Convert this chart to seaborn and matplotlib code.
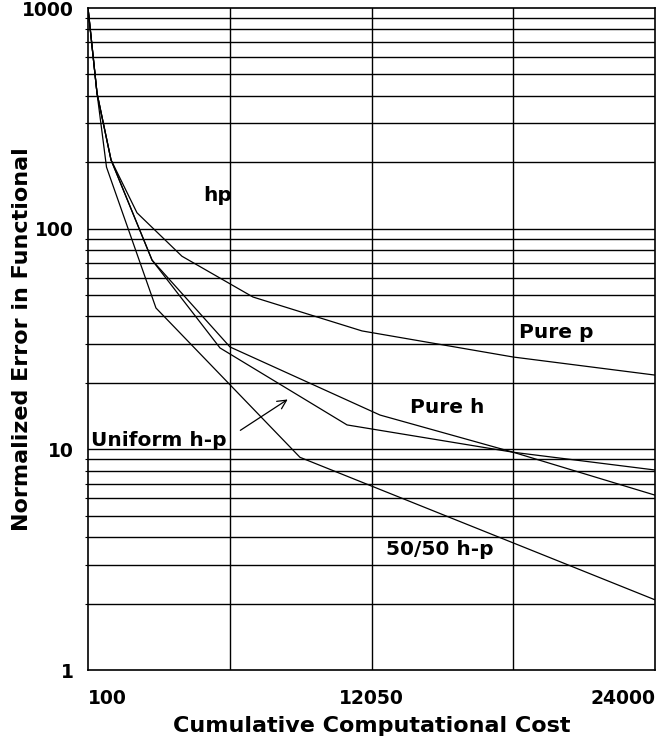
import matplotlib
matplotlib.use("Agg")
import matplotlib.pyplot as plt
import matplotlib.transforms as mtransforms
import seaborn as sns
import pandas as pd
import numpy as np

# ---- data ----
cost_pure_p = [100, 480, 1070, 2165, 4060, 7055, 11650, 18025, 24000]
err_pure_p = [1000, 411, 205, 118, 75, 49, 34.4, 26.2, 21.7]

cost_pure_h = [100, 480, 1070, 2800, 6085, 12410, 18025, 24000]
err_pure_h = [1000, 411, 205, 72, 29.1, 14.3, 9.7, 6.2]

cost_uniform = [100, 480, 1070, 2800, 5665, 11020, 18025, 24000]
err_uniform = [1000, 411, 205, 72, 28.8, 12.9, 9.7, 8.06]

cost_5050 = [100, 480, 880, 2965, 9035, 24000]
err_5050 = [1000, 411, 190, 43.7, 9.2, 2.08]

x_ticks = [100, 12050, 24000]
x_tick_labels = ["100", "12050", "24000"]
x_grid = [6075, 12050, 18025]
y_ticks = [1, 10, 100, 1000]
y_tick_labels = ["1", "10", "100", "1000"]

sns.set_theme(style="white")
plt.rcParams['font.family'] = ['DejaVu Sans']
plt.rcParams['font.weight'] = 'bold'
plt.rcParams['text.color'] = 'black'
plt.rcParams['axes.labelcolor'] = 'black'
plt.rcParams['xtick.color'] = 'black'
plt.rcParams['ytick.color'] = 'black'
plt.rcParams['xtick.labelcolor'] = 'black'
plt.rcParams['ytick.labelcolor'] = 'black'

frames = []
for name, c, e in [("Pure p", cost_pure_p, err_pure_p),
                   ("Pure h", cost_pure_h, err_pure_h),
                   ("Uniform h-p", cost_uniform, err_uniform),
                   ("50/50 h-p", cost_5050, err_5050)]:
    frames.append(pd.DataFrame({"cost": c, "err": e, "series": name}))
df = pd.concat(frames, ignore_index=True)

fig = plt.figure(figsize=(6.69, 7.49), dpi=100)
ax = fig.add_axes([88/669, 1 - 670/749, 567/669, 662/749])

ax.set_yscale("log")
ax.set_xlim(100, 24000)
ax.set_ylim(1, 1000)

# grid lines
for xv in x_grid:
    ax.axvline(xv, color="black", lw=1.0, zorder=1)
for dec in [1, 10, 100]:
    for m in range(2, 10):
        ax.axhline(dec * m, color="black", lw=1.0, zorder=1)
    if dec > 1:
        ax.axhline(dec, color="black", lw=1.0, zorder=1)

sns.lineplot(data=df, x="cost", y="err", units="series", estimator=None,
             sort=False, color="black", lw=0.9, ax=ax, legend=False, zorder=3)

for s in ax.spines.values():
    s.set_color("black")
    s.set_linewidth(1.2)

ax.set_xticks(x_ticks)
ax.set_xticklabels(x_tick_labels, fontsize=13.5, fontweight="bold", color="black")
tl = ax.get_xticklabels()
tl[0].set_ha("left")
tl[0].set_transform(tl[0].get_transform() +
                    mtransforms.ScaledTranslation(6/100, 0, fig.dpi_scale_trans))
tl[2].set_ha("right")
ax.set_yticks(y_ticks)
ax.set_yticklabels(y_tick_labels, fontsize=13.5, fontweight="bold", color="black")
ax.yaxis.set_minor_locator(matplotlib.ticker.LogLocator(base=10, subs=np.arange(2, 10)))
ax.yaxis.set_minor_formatter(matplotlib.ticker.NullFormatter())
ax.tick_params(axis="x", which="both", length=0, pad=14)
ax.tick_params(axis="y", which="major", length=0, pad=10.5)
ax.tick_params(axis="y", which="minor", length=2, width=0.8, color="black", left=True)

ax.set_xlabel("Cumulative Computational Cost", fontsize=16, fontweight="bold", color="black")
ax.set_ylabel("Normalized Error in Functional", fontsize=16, fontweight="bold", color="black")
ax.xaxis.set_label_coords(0.5, -0.069)
ax.yaxis.set_label_coords(-0.099, 0.5)

tkw = dict(fontsize=14.5, fontweight="bold", ha="center", va="center", zorder=4, color="black")
ax.text(5580, 142, "hp", **tkw)
ax.text(19826, 34.0, "Pure p", **tkw)
ax.text(15232, 15.5, "Pure h", **tkw)
ax.text(3100, 11.0, "Uniform h-p", **tkw)
ax.text(14937, 3.5, "50/50 h-p", **tkw)
ax.annotate("", xy=(8615, 17.1), xytext=(6423, 12.0),
            arrowprops=dict(arrowstyle="->", color="black", lw=0.9,
                            mutation_scale=16))

fig.savefig("out.png", dpi=100)
